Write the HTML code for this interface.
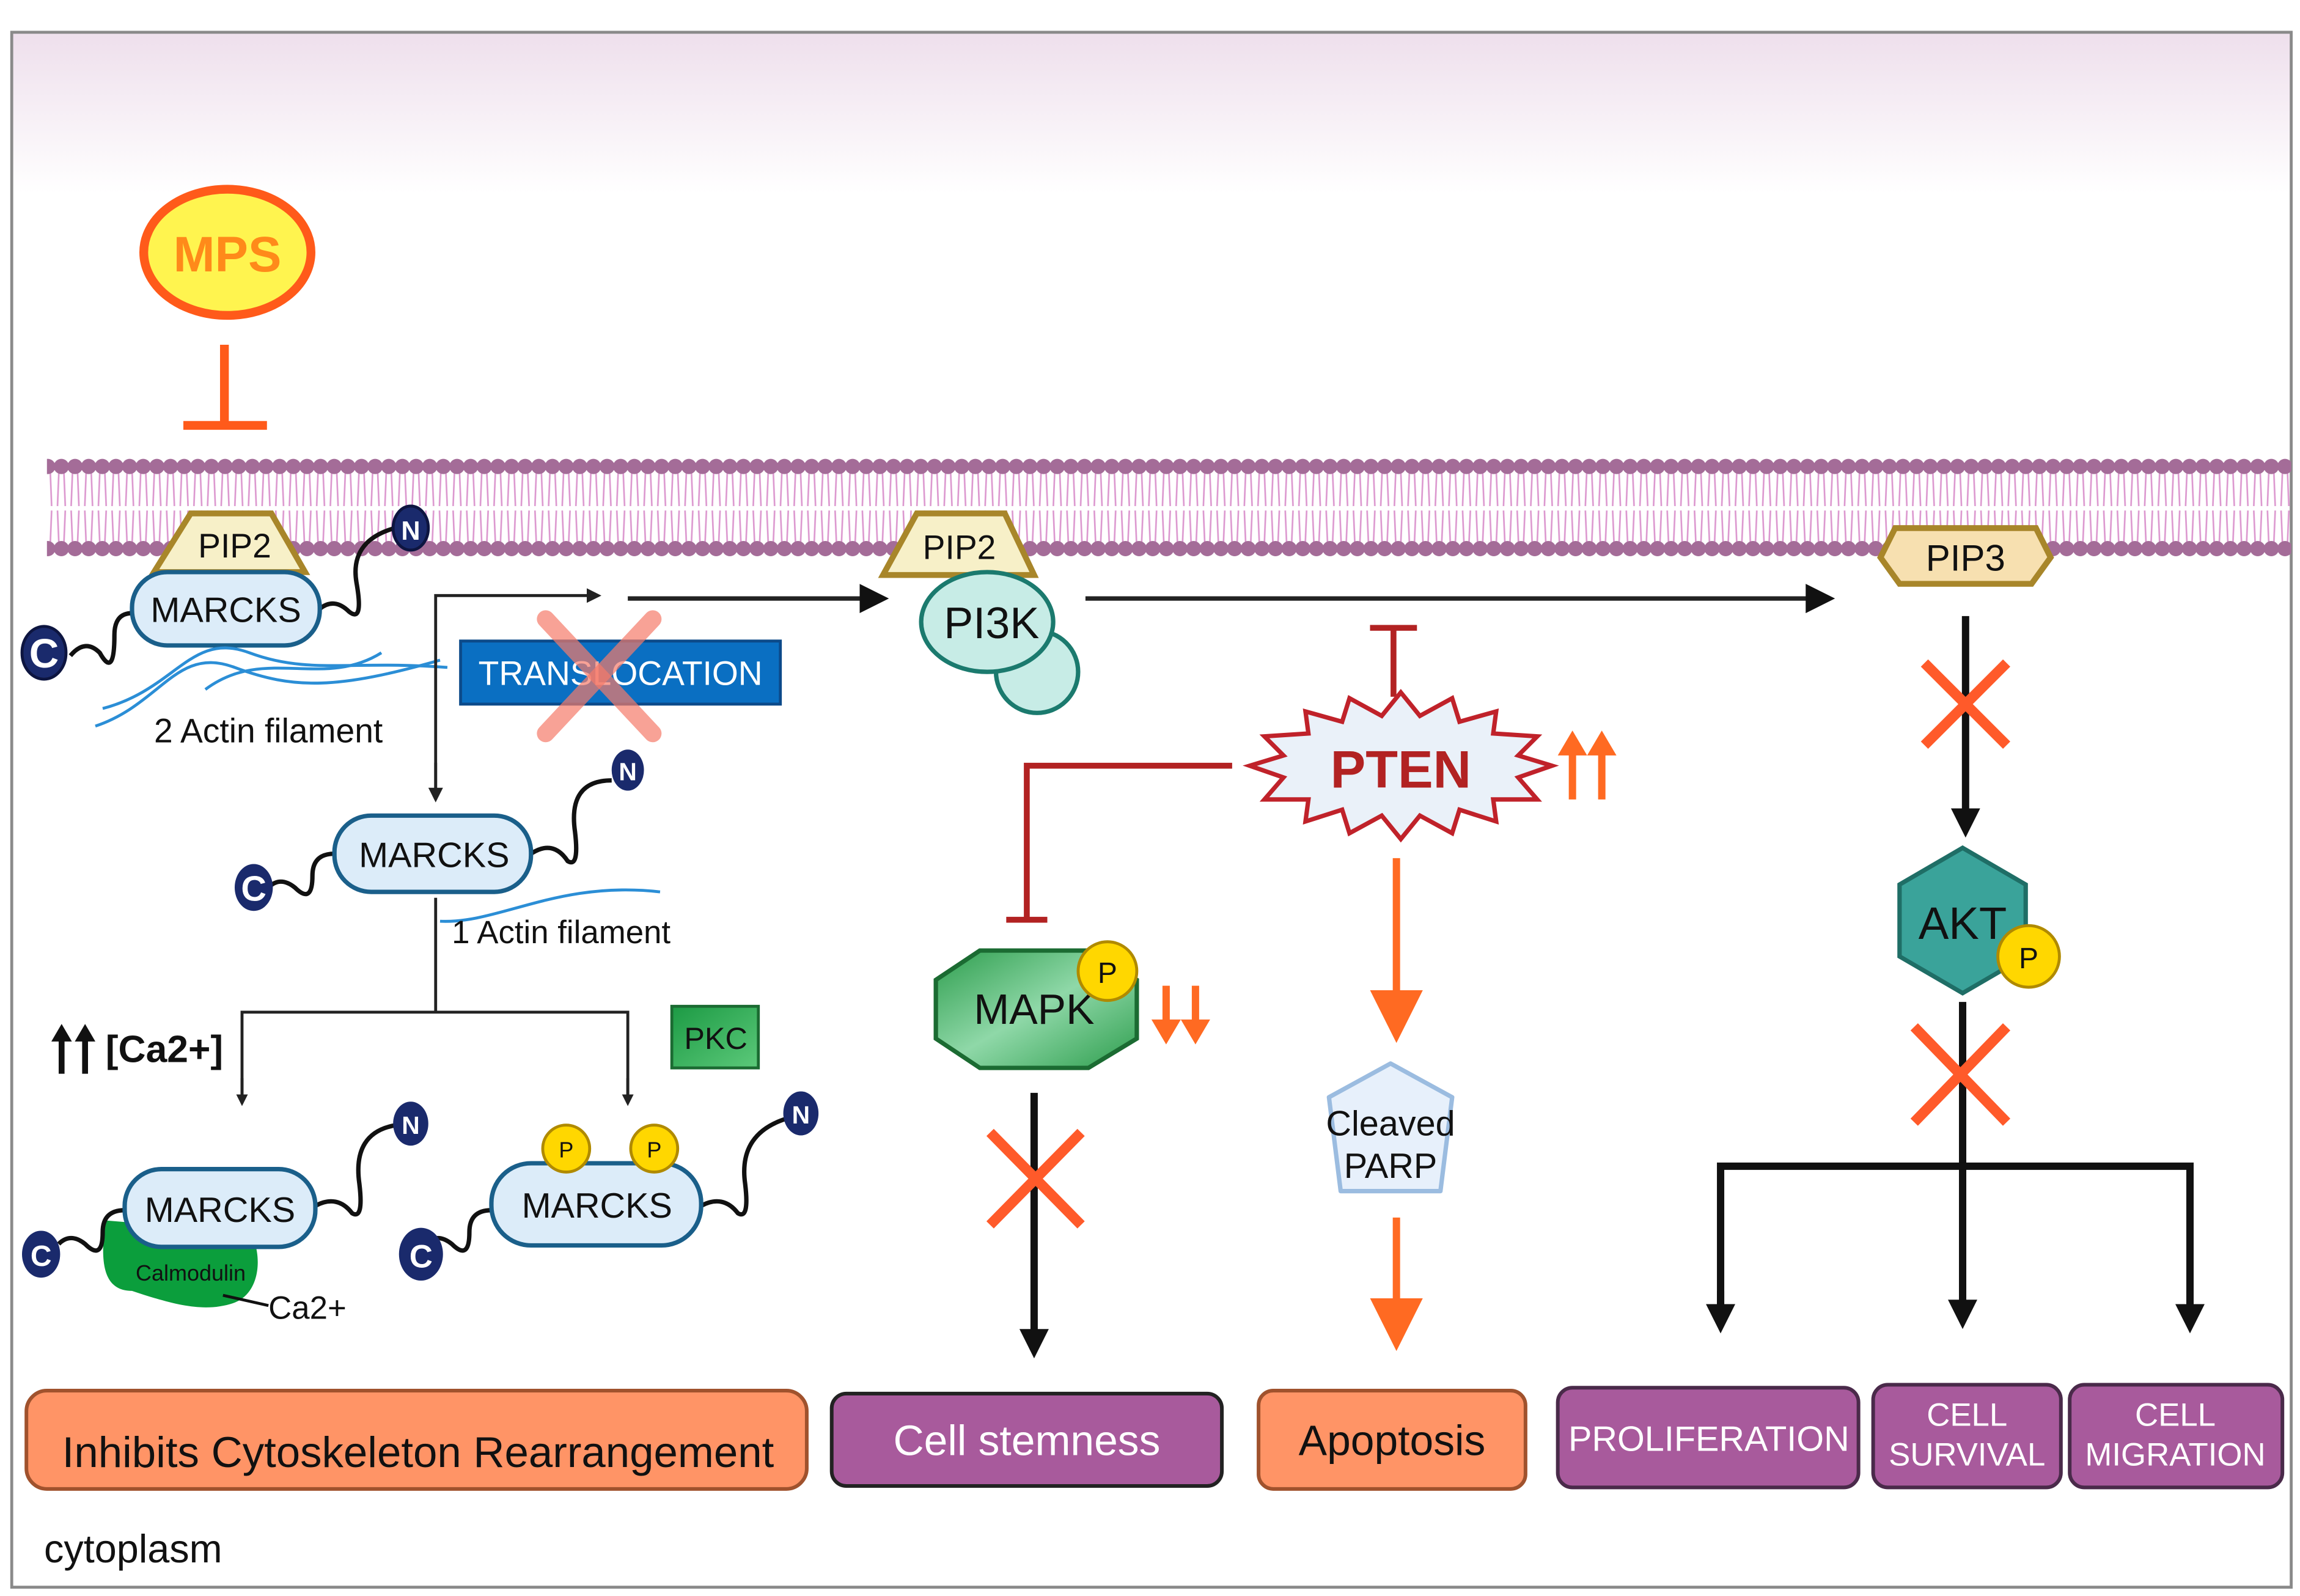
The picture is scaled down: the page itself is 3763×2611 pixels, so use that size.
<!DOCTYPE html>
<html><head><meta charset="utf-8"><style>
html,body{margin:0;padding:0;background:#fff}
svg{display:block}
text{font-family:"Liberation Sans",sans-serif}
</style></head><body>
<svg width="3763" height="2611" viewBox="0 0 1568 1088" preserveAspectRatio="none" xmlns="http://www.w3.org/2000/svg">
<defs>
<linearGradient id="topg" x1="0" y1="0" x2="0" y2="1"><stop offset="0" stop-color="#eedfec"/><stop offset="1" stop-color="#ffffff"/></linearGradient>
<linearGradient id="mapkg" x1="0" y1="0" x2="1" y2="1"><stop offset="0" stop-color="#2e9e4e"/><stop offset="0.5" stop-color="#8fd8a8"/><stop offset="1" stop-color="#2e9e4e"/></linearGradient>
<linearGradient id="pkcg" x1="0" y1="0" x2="1" y2="1"><stop offset="0" stop-color="#1c9a44"/><stop offset="1" stop-color="#5cc97a"/></linearGradient>
<pattern id="mem" x="0" y="0" width="9.3" height="1088" patternUnits="userSpaceOnUse">
<line x1="3" y1="320" x2="2" y2="345" stroke="#dc98cf" stroke-width="1.1"/>
<line x1="6.3" y1="320" x2="7.3" y2="345" stroke="#dc98cf" stroke-width="1.1"/>
<line x1="2" y1="348" x2="3" y2="372" stroke="#dc98cf" stroke-width="1.1"/>
<line x1="7.3" y1="348" x2="6.3" y2="372" stroke="#dc98cf" stroke-width="1.1"/>
<circle cx="4.65" cy="318" r="5.2" fill="#a46c98"/>
<circle cx="4.65" cy="374" r="5.2" fill="#a46c98"/>
</pattern>
<marker id="ah" markerWidth="8" markerHeight="8" refX="6" refY="4" orient="auto" markerUnits="userSpaceOnUse"><path d="M0,0 L8,4 L0,8 z" fill="#222"/></marker>
<marker id="ahs" markerWidth="10" markerHeight="10" refX="8" refY="5" orient="auto" markerUnits="userSpaceOnUse"><path d="M0,0 L10,5 L0,10 z" fill="#222"/></marker>
<marker id="ahb" markerWidth="20" markerHeight="20" refX="14" refY="10" orient="auto" markerUnits="userSpaceOnUse"><path d="M0,0 L20,10 L0,20 z" fill="#111"/></marker>
<marker id="aho" markerWidth="36" markerHeight="36" refX="30" refY="18" orient="auto" markerUnits="userSpaceOnUse"><path d="M0,0 L36,18 L0,36 z" fill="#ff6a22"/></marker>
</defs>
<rect x="0" y="0" width="1568" height="1088" fill="#fff"/>
<rect x="8" y="22" width="1554" height="110" fill="url(#topg)"/>
<rect x="8" y="22" width="1554" height="1060" fill="none" stroke="#8a8a8a" stroke-width="2"/>
<rect x="32" y="310" width="1530" height="72" fill="url(#mem)"/>

<!-- MPS -->
<ellipse cx="155" cy="172" rx="57" ry="43" fill="#fff44f" stroke="#ff5a1a" stroke-width="6"/>
<text x="155" y="185" font-size="34" font-weight="bold" fill="#ff8a1a" text-anchor="middle">MPS</text>
<line x1="153" y1="235" x2="153" y2="290" stroke="#ff5a1a" stroke-width="6"/>
<line x1="125" y1="290" x2="182" y2="290" stroke="#ff5a1a" stroke-width="6"/>

<!-- MARCKS 1 -->
<path d="M218,415 q10,-8 20,2 q10,8 5,-20 q-5,-30 30,-38" fill="none" stroke="#111" stroke-width="3"/>
<path d="M90,418 q-12,0 -12,15 q0,30 -10,12 q-10,-10 -20,2" fill="none" stroke="#111" stroke-width="3"/>
<polygon points="130,350 185,350 208,390 105,390" fill="#f7f0c8" stroke="#a8862a" stroke-width="4"/>
<text x="160" y="380" font-size="23" text-anchor="middle" fill="#111">PIP2</text>
<rect x="90" y="390" width="128" height="50" rx="24" fill="#dcecf9" stroke="#1a5f8a" stroke-width="3"/>
<text x="154" y="424" font-size="24" text-anchor="middle" fill="#111">MARCKS</text>
<ellipse cx="280" cy="360" rx="12" ry="15" fill="#1a2a6c" stroke="#0d1540" stroke-width="2"/>
<text x="280" y="368" font-size="18" font-weight="bold" fill="#fff" text-anchor="middle">N</text>
<ellipse cx="30" cy="445" rx="15" ry="18" fill="#1a2a6c" stroke="#0d1540" stroke-width="2"/>
<text x="30" y="455" font-size="28" font-weight="bold" fill="#fff" text-anchor="middle">C</text>
<path d="M65,495 C110,480 120,440 160,455 S230,470 300,450" fill="none" stroke="#2b8ed6" stroke-width="2"/>
<path d="M70,483 C120,470 130,430 170,445 S240,450 305,455" fill="none" stroke="#2b8ed6" stroke-width="2"/>
<path d="M140,470 C180,440 220,470 260,445" fill="none" stroke="#2b8ed6" stroke-width="2"/>
<text x="105" y="506" font-size="23" fill="#111">2 Actin filament</text>

<!-- connectors left -->
<polyline points="297,545 297,406 408,406" fill="none" stroke="#222" stroke-width="2" marker-end="url(#ahs)"/>
<line x1="297" y1="520" x2="297" y2="545" stroke="#222" stroke-width="2" marker-end="url(#ahs)"/>
<line x1="428" y1="408" x2="600" y2="408" stroke="#222" stroke-width="3" marker-end="url(#ahb)"/>
<rect x="314" y="437" width="218" height="43" fill="#0a6fc2" stroke="#0c4a8a" stroke-width="2"/>
<text x="423" y="467" font-size="23" fill="#fff" text-anchor="middle">TRANSLOCATION</text>
<line x1="372" y1="422" x2="445" y2="500" stroke="#f57a6a" stroke-opacity="0.7" stroke-width="12" stroke-linecap="round"/>
<line x1="445" y1="422" x2="372" y2="500" stroke="#f57a6a" stroke-opacity="0.7" stroke-width="12" stroke-linecap="round"/>

<!-- PIP2/PI3K -->
<polygon points="625,350 685,350 705,392 602,392" fill="#f7f0c8" stroke="#a8862a" stroke-width="4"/>
<text x="654" y="381" font-size="23" text-anchor="middle" fill="#111">PIP2</text>
<circle cx="707" cy="458" r="28" fill="#c7ece6" stroke="#1b7a6e" stroke-width="3"/>
<ellipse cx="673" cy="424" rx="45" ry="34" fill="#c7ece6" stroke="#1b7a6e" stroke-width="3"/>
<text x="676" y="435" font-size="30" text-anchor="middle" fill="#111">PI3K</text>
<line x1="740" y1="408" x2="1245" y2="408" stroke="#222" stroke-width="3" marker-end="url(#ahb)"/>

<!-- PIP3 -->
<polygon points="1292,360 1388,360 1398,380 1385,398 1295,398 1282,380" fill="#f7e0b0" stroke="#a8862a" stroke-width="4"/>
<text x="1340" y="389" font-size="25" text-anchor="middle" fill="#111">PIP3</text>

<!-- AKT column -->
<line x1="1340" y1="420" x2="1340" y2="565" stroke="#111" stroke-width="5" marker-end="url(#ahb)"/>
<line x1="1312" y1="452" x2="1368" y2="508" stroke="#ff5a2a" stroke-width="7"/>
<line x1="1368" y1="452" x2="1312" y2="508" stroke="#ff5a2a" stroke-width="7"/>
<polygon points="1338,578 1381,603 1381,652 1338,677 1295,652 1295,603" fill="#3aa39a" stroke="#1f6e66" stroke-width="3"/>
<text x="1338" y="640" font-size="31" text-anchor="middle" fill="#111">AKT</text>
<circle cx="1383" cy="652" r="21" fill="#ffd700" stroke="#b08a00" stroke-width="2"/>
<text x="1383" y="660" font-size="20" text-anchor="middle" fill="#111">P</text>
<line x1="1338" y1="683" x2="1338" y2="900" stroke="#111" stroke-width="5" marker-end="url(#ahb)"/>
<line x1="1305" y1="700" x2="1368" y2="765" stroke="#ff5a2a" stroke-width="7"/>
<line x1="1368" y1="700" x2="1305" y2="765" stroke="#ff5a2a" stroke-width="7"/>
<polyline points="1173,900 1173,795 1493,795 1493,900" fill="none" stroke="#111" stroke-width="5"/>
<line x1="1173" y1="880" x2="1173" y2="903" stroke="#111" stroke-width="5" marker-end="url(#ahb)"/>
<line x1="1493" y1="880" x2="1493" y2="903" stroke="#111" stroke-width="5" marker-end="url(#ahb)"/>

<!-- PTEN -->
<line x1="950" y1="475" x2="950" y2="428" stroke="#b22222" stroke-width="4"/>
<line x1="934" y1="428" x2="966" y2="428" stroke="#b22222" stroke-width="4"/>
<polyline points="840,522 700,522 700,627" fill="none" stroke="#b22222" stroke-width="4"/>
<line x1="686" y1="627" x2="714" y2="627" stroke="#b22222" stroke-width="4"/>
<polygon points="955,472 968,488 990,476 995,492 1020,485 1018,500 1048,502 1035,515 1058,522 1035,530 1048,545 1018,545 1020,560 995,552 990,568 968,556 955,572 942,556 920,568 915,552 890,560 892,545 862,545 875,530 852,522 875,515 862,502 892,500 890,485 915,492 920,476 942,488" fill="#eaf1f9" stroke="#c0222a" stroke-width="3"/>
<text x="955" y="537" font-size="36" font-weight="bold" text-anchor="middle" fill="#b22222">PTEN</text>
<g stroke="#ff6a22" stroke-width="5" fill="#ff6a22">
<line x1="1072" y1="545" x2="1072" y2="510"/><polygon points="1062,515 1072,498 1082,515" stroke="none"/>
<line x1="1092" y1="545" x2="1092" y2="510"/><polygon points="1082,515 1092,498 1102,515" stroke="none"/>
<line x1="795" y1="672" x2="795" y2="700"/><polygon points="785,695 795,712 805,695" stroke="none"/>
<line x1="815" y1="672" x2="815" y2="700"/><polygon points="805,695 815,712 825,695" stroke="none"/>
</g>
<line x1="952" y1="585" x2="952" y2="705" stroke="#ff6a22" stroke-width="5" marker-end="url(#aho)"/>
<polygon points="948,725 990,748 982,812 914,812 906,748" fill="#e7f0fb" stroke="#9bbce0" stroke-width="3" stroke-linejoin="round"/>
<text x="948" y="774" font-size="24" text-anchor="middle" fill="#111">Cleaved</text>
<text x="948" y="803" font-size="24" text-anchor="middle" fill="#111">PARP</text>
<line x1="952" y1="830" x2="952" y2="915" stroke="#ff6a22" stroke-width="5" marker-end="url(#aho)"/>

<!-- MAPK -->
<polygon points="668,648 742,648 775,668 775,708 742,728 668,728 638,708 638,668" fill="url(#mapkg)" stroke="#1b6b32" stroke-width="3"/>
<text x="705" y="698" font-size="29" text-anchor="middle" fill="#111">MAPK</text>
<circle cx="755" cy="662" r="20" fill="#ffd700" stroke="#b08a00" stroke-width="2"/>
<text x="755" y="670" font-size="20" text-anchor="middle" fill="#111">P</text>
<line x1="705" y1="745" x2="705" y2="920" stroke="#111" stroke-width="5" marker-end="url(#ahb)"/>
<line x1="675" y1="772" x2="737" y2="835" stroke="#ff5a2a" stroke-width="7"/>
<line x1="737" y1="772" x2="675" y2="835" stroke="#ff5a2a" stroke-width="7"/>

<!-- MARCKS 2 -->
<path d="M362,582 q15,-10 25,5 q8,5 5,-20 q-5,-35 25,-35" fill="none" stroke="#111" stroke-width="3"/>
<path d="M228,582 q-15,0 -15,15 q0,20 -12,8 q-10,-8 -18,0" fill="none" stroke="#111" stroke-width="3"/>
<rect x="228" y="556" width="134" height="52" rx="25" fill="#dcecf9" stroke="#1a5f8a" stroke-width="3"/>
<text x="296" y="591" font-size="24" text-anchor="middle" fill="#111">MARCKS</text>
<ellipse cx="428" cy="525" rx="11" ry="14" fill="#1a2a6c"/>
<text x="428" y="532" font-size="17" font-weight="bold" fill="#fff" text-anchor="middle">N</text>
<ellipse cx="173" cy="605" rx="13" ry="16" fill="#1a2a6c"/>
<text x="173" y="614" font-size="24" font-weight="bold" fill="#fff" text-anchor="middle">C</text>
<path d="M300,628 C340,630 380,600 450,608" fill="none" stroke="#2b8ed6" stroke-width="2"/>
<text x="308" y="643" font-size="22" fill="#111">1 Actin filament</text>
<line x1="297" y1="612" x2="297" y2="690" stroke="#222" stroke-width="2"/>
<polyline points="165,752 165,690 428,690 428,752" fill="none" stroke="#222" stroke-width="2"/>
<line x1="165" y1="735" x2="165" y2="752" stroke="#222" stroke-width="2" marker-end="url(#ah)"/>
<line x1="428" y1="735" x2="428" y2="752" stroke="#222" stroke-width="2" marker-end="url(#ah)"/>
<g stroke="#111" stroke-width="4" fill="#111">
<line x1="42" y1="732" x2="42" y2="708"/><polygon points="35,710 42,698 49,710" stroke="none"/>
<line x1="58" y1="732" x2="58" y2="708"/><polygon points="51,710 58,698 65,710" stroke="none"/>
</g>
<text x="72" y="724" font-size="26" font-weight="bold" fill="#111">[Ca2+]</text>
<rect x="458" y="686" width="59" height="42" fill="url(#pkcg)" stroke="#1b6b32" stroke-width="2"/>
<text x="488" y="715" font-size="21" text-anchor="middle" fill="#111">PKC</text>

<!-- MARCKS 3 -->
<path d="M72,832 C68,860 70,880 90,880 C120,890 140,895 160,888 C180,880 178,850 170,840 Z" fill="#0b9e3c"/>
<path d="M215,822 q15,-8 25,5 q8,5 5,-20 q-5,-35 25,-40" fill="none" stroke="#111" stroke-width="3"/>
<path d="M85,825 q-15,0 -15,15 q0,20 -12,8 q-10,-8 -18,0" fill="none" stroke="#111" stroke-width="3"/>
<rect x="85" y="797" width="130" height="53" rx="25" fill="#dcecf9" stroke="#1a5f8a" stroke-width="3"/>
<text x="150" y="833" font-size="24" text-anchor="middle" fill="#111">MARCKS</text>
<text x="130" y="873" font-size="15" text-anchor="middle" fill="#111">Calmodulin</text>
<line x1="152" y1="883" x2="183" y2="890" stroke="#111" stroke-width="2"/>
<text x="183" y="899" font-size="22" fill="#111">Ca2+</text>
<ellipse cx="280" cy="766" rx="12" ry="15" fill="#1a2a6c"/>
<text x="280" y="773" font-size="17" font-weight="bold" fill="#fff" text-anchor="middle">N</text>
<ellipse cx="28" cy="855" rx="13" ry="16" fill="#1a2a6c"/>
<text x="28" y="863" font-size="20" font-weight="bold" fill="#fff" text-anchor="middle">C</text>

<!-- MARCKS 4 -->
<path d="M478,822 q15,-8 25,5 q8,5 5,-20 q-5,-35 30,-45" fill="none" stroke="#111" stroke-width="3"/>
<path d="M335,825 q-15,0 -15,15 q0,20 -12,8 q-10,-8 -18,0" fill="none" stroke="#111" stroke-width="3"/>
<rect x="335" y="793" width="143" height="56" rx="27" fill="#dcecf9" stroke="#1a5f8a" stroke-width="3"/>
<text x="407" y="830" font-size="24" text-anchor="middle" fill="#111">MARCKS</text>
<circle cx="386" cy="783" r="16" fill="#ffd700" stroke="#b08a00" stroke-width="2"/>
<text x="386" y="789" font-size="15" text-anchor="middle" fill="#111">P</text>
<circle cx="446" cy="783" r="16" fill="#ffd700" stroke="#b08a00" stroke-width="2"/>
<text x="446" y="789" font-size="15" text-anchor="middle" fill="#111">P</text>
<ellipse cx="546" cy="759" rx="12" ry="15" fill="#1a2a6c"/>
<text x="546" y="766" font-size="17" font-weight="bold" fill="#fff" text-anchor="middle">N</text>
<ellipse cx="287" cy="855" rx="15" ry="18" fill="#1a2a6c"/>
<text x="287" y="864" font-size="22" font-weight="bold" fill="#fff" text-anchor="middle">C</text>

<!-- bottom boxes -->
<rect x="18" y="948" width="532" height="67" rx="14" fill="#ff9466" stroke="#a0522d" stroke-width="2.5"/>
<text x="285" y="1000" font-size="29.5" text-anchor="middle" fill="#111">Inhibits Cytoskeleton Rearrangement</text>
<rect x="567" y="950" width="266" height="63" rx="10" fill="#a85a9c" stroke="#222" stroke-width="2.5"/>
<text x="700" y="992" font-size="29" text-anchor="middle" fill="#fff">Cell stemness</text>
<rect x="858" y="948" width="182" height="67" rx="10" fill="#ff9466" stroke="#a0522d" stroke-width="2.5"/>
<text x="949" y="992" font-size="29" text-anchor="middle" fill="#111">Apoptosis</text>
<rect x="1062" y="946" width="205" height="68" rx="10" fill="#a85a9c" stroke="#4a2a4a" stroke-width="2.5"/>
<text x="1165" y="989" font-size="24" text-anchor="middle" fill="#fff">PROLIFERATION</text>
<rect x="1277" y="944" width="128" height="70" rx="10" fill="#a85a9c" stroke="#4a2a4a" stroke-width="2.5"/>
<text x="1341" y="972" font-size="22" text-anchor="middle" fill="#fff">CELL</text>
<text x="1341" y="999" font-size="22" text-anchor="middle" fill="#fff">SURVIVAL</text>
<rect x="1411" y="944" width="145" height="70" rx="10" fill="#a85a9c" stroke="#4a2a4a" stroke-width="2.5"/>
<text x="1483" y="972" font-size="22" text-anchor="middle" fill="#fff">CELL</text>
<text x="1483" y="999" font-size="22" text-anchor="middle" fill="#fff">MIGRATION</text>
<text x="30" y="1065" font-size="27" fill="#111">cytoplasm</text>
</svg>
</body></html>
